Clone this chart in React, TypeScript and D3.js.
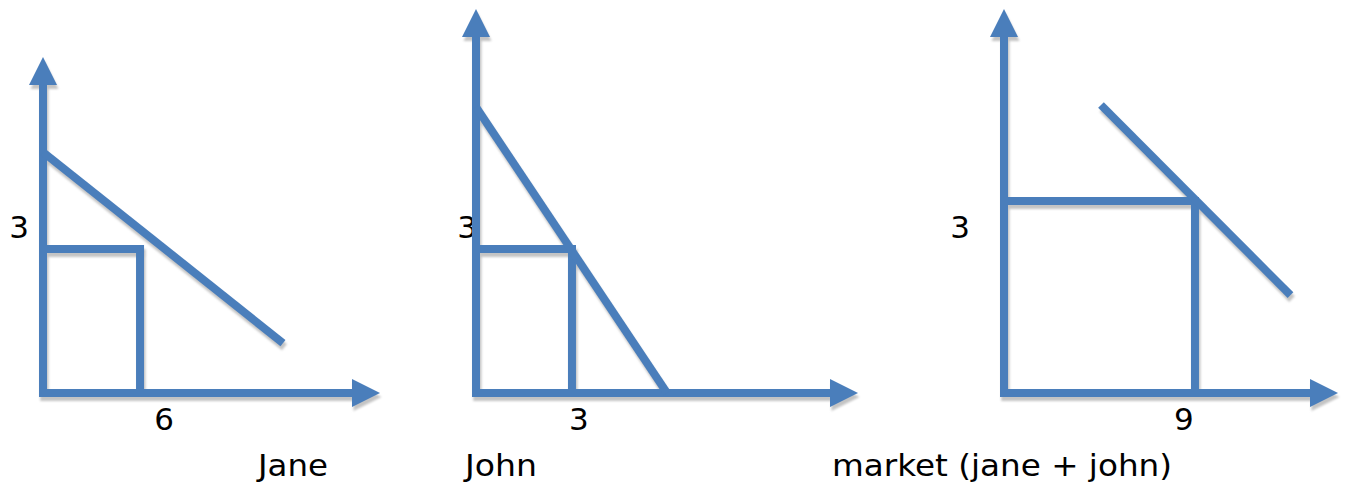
import React from "react";
import * as d3 from "d3";

// ---- data ----
const panelNames = ["Jane", "John", "market (jane + john)"];
const priceTickLabels = ["3", "3", "3"];
const quantityTickLabels = ["6", "3", "9"];
const equilibriumPrice = [3, 3, 3];
const equilibriumQuantity = [6, 3, 9];
const demandStartQ = [0, 0, 4.57];
const demandStartP = [5.02, 5.96, 4.5];
const demandEndQ = [14.84, 5.97, 13.5];
const demandEndP = [1.04, 0, 1.53];
const axisMaxQ = [20.84, 11.94, 15.74];
const axisMaxP = [7, 8, 6];

// ---- layout ----
const W = 1346;
const H = 484;
const xRanges = [[43, 380], [476, 858], [1004, 1338]];
const yRanges = [[393, 57], [393, 9], [393, 9]];
const priceLabelX = [19, 467, 960];
const priceLabelY = 238;
const quantityLabelDx = [24, 7, -11];
const quantityLabelY = 430;
const nameX = [258, 465, 832];
const nameWidth = [70, 72, 340];
const nameY = 476;
const BLUE = "#4a7ebb";
const SHADOW = "#c4c4c4";
const SW = 8;
const ARROW_LEN = 28;
const ARROW_HALF = 14;

type Shape = { kind: "line"; d: string } | { kind: "poly"; d: string };

function panelShapes(i: number): Shape[] {
  const x = d3.scaleLinear().domain([0, axisMaxQ[i]]).range(xRanges[i]);
  const y = d3.scaleLinear().domain([0, axisMaxP[i]]).range(yRanges[i]);
  const line = d3.line<[number, number]>();
  const x0 = x(0), y0 = y(0);
  const xTip = x(axisMaxQ[i]), yTip = y(axisMaxP[i]);
  const shapes: Shape[] = [];
  // y axis
  shapes.push({ kind: "line", d: line([[x0, y0 + SW / 2], [x0, yTip + ARROW_LEN - 1]])! });
  shapes.push({
    kind: "poly",
    d: line([[x0 - ARROW_HALF, yTip + ARROW_LEN], [x0, yTip], [x0 + ARROW_HALF, yTip + ARROW_LEN]])! + "Z",
  });
  // x axis
  shapes.push({ kind: "line", d: line([[x0 - SW / 2, y0], [xTip - ARROW_LEN + 1, y0]])! });
  shapes.push({
    kind: "poly",
    d: line([[xTip - ARROW_LEN, y0 - ARROW_HALF], [xTip, y0], [xTip - ARROW_LEN, y0 + ARROW_HALF]])! + "Z",
  });
  // equilibrium rectangle
  const qx = x(equilibriumQuantity[i]);
  const py = y(equilibriumPrice[i]);
  shapes.push({ kind: "line", d: line([[x0, py], [qx + SW / 2, py]])! });
  shapes.push({ kind: "line", d: line([[qx, py - SW / 2], [qx, y0]])! });
  // demand
  shapes.push({
    kind: "line",
    d: line([
      [x(demandStartQ[i]), y(demandStartP[i])],
      [x(demandEndQ[i]), y(demandEndP[i])],
    ])!,
  });
  return shapes;
}

export default function App() {
  const all = panelNames.map((_, i) => panelShapes(i));
  const font = "'DejaVu Sans', Verdana, sans-serif";
  return (
    <svg
      width={W}
      height={H}
      viewBox={`0 0 ${W} ${H}`}
      style={{ position: "absolute", left: 0, top: 0, background: "#fff" }}
    >
      <defs>
        <filter id="blur" x="-5%" y="-5%" width="110%" height="110%">
          <feGaussianBlur stdDeviation="0.8" />
        </filter>
      </defs>
      {/* labels under lines */}
      {panelNames.map((name, i) => {
        const x = d3.scaleLinear().domain([0, axisMaxQ[i]]).range(xRanges[i]);
        return (
          <g key={"lab" + i} fontFamily={font} fill="#000">
            <text x={priceLabelX[i]} y={priceLabelY} textAnchor="middle" fontSize={31}>
              {priceTickLabels[i]}
            </text>
            <text
              x={x(equilibriumQuantity[i]) + quantityLabelDx[i]}
              y={quantityLabelY}
              textAnchor="middle"
              fontSize={31}
            >
              {quantityTickLabels[i]}
            </text>
            <text
              x={nameX[i]}
              y={nameY}
              fontSize={30}
              textLength={nameWidth[i]}
              lengthAdjust="spacingAndGlyphs"
            >
              {name}
            </text>
          </g>
        );
      })}
      {/* shadows */}
      <g transform="translate(1.5,4)" filter="url(#blur)">
        {all.flat().map((s, k) =>
          s.kind === "line" ? (
            <path key={k} d={s.d} stroke={SHADOW} strokeWidth={SW} fill="none" />
          ) : (
            <path key={k} d={s.d} fill={SHADOW} />
          )
        )}
      </g>
      {/* marks */}
      <g>
        {all.flat().map((s, k) =>
          s.kind === "line" ? (
            <path key={k} d={s.d} stroke={BLUE} strokeWidth={SW} fill="none" />
          ) : (
            <path key={k} d={s.d} fill={BLUE} />
          )
        )}
      </g>
    </svg>
  );
}
